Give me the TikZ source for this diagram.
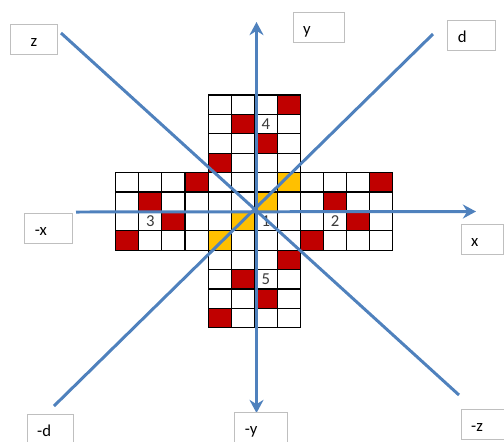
\documentclass[tikz,border=0pt]{standalone}
\usepackage{fontspec}
\setmainfont{Carlito}
\usepackage{tikz}
\usetikzlibrary{arrows.meta}
\definecolor{ax}{HTML}{4F81BD}
\definecolor{hit}{HTML}{C00000}
\definecolor{trail}{HTML}{FFC000}
\definecolor{boxline}{HTML}{BFBFBF}
\definecolor{num}{HTML}{3A3A3A}
\tikzset{
  sq/.style={draw=black, line width=0.6pt, fill=white},
  redsq/.style={sq, fill=hit},
  yelsq/.style={sq, fill=trail},
  digit/.style={font=\fontsize{9.5}{11}\selectfont, text=num, inner sep=0pt},
  axline/.style={draw=ax, line width=1.7pt},
  onearrow/.style={axline, -{Stealth[length=7.5pt, width=8pt, inset=2.5pt]}},
  twoarrow/.style={axline, {Stealth[length=7.5pt, width=8pt, inset=2.5pt]}-{Stealth[length=7.5pt, width=8pt, inset=2.5pt]}},
  tagbox/.style={draw=boxline, line width=0.6pt, fill=white, anchor=north west,
    font=\fontsize{9.5}{11}\selectfont, inner xsep=0.2cm, inner ysep=0.06cm,
    text height=0.38cm, text depth=0.1cm},
}
\newcommand{\cellat}[3]{\draw[#3] (#1,#2) rectangle ++(1,1);}
\newcommand{\axtag}[6]{\node[tagbox, text width=#4, align=#5] (#1) at (#2,#3) {#6};}

\begin{document}
\begin{tikzpicture}[x=0.02cm, y=-0.02cm]
  \path[use as bounding box, clip] (0,0) rectangle (504,441);
  % board
  \begin{scope}[shift={(115.7,95)}, x=0.462cm, y=-0.388cm]
    \foreach \row in {0,...,11} {\foreach \col in {4,...,7} {\cellat{\col}{\row}{sq}}}
    \foreach \row in {4,...,7} {\foreach \col in {0,1,2,3,8,9,10,11} {\cellat{\col}{\row}{sq}}}
    \foreach \col/\row in {7/0, 5/1, 6/2, 4/3, 3/4, 11/4, 1/5, 9/5, 2/6, 10/6, 0/7, 8/7, 7/8, 5/9, 6/10, 4/11}
      {\cellat{\col}{\row}{redsq}}
    \foreach \col/\row in {7/4, 6/5, 5/6, 4/7} {\cellat{\col}{\row}{yelsq}}
    \foreach \col/\row/\lab in {6/1/4, 1/6/3, 6/6/1, 9/6/2, 6/9/5}
      \node[digit] (n\lab) at (\col+0.5,\row+0.5) {\lab};
  \end{scope}
  % axes
  \coordinate (xw) at (76,212);    \coordinate (xe) at (476,211.5);
  \coordinate (yn) at (256.5,22);  \coordinate (ys) at (256.5,413);
  \coordinate (zn) at (61,33);     \coordinate (zs) at (459,395);
  \coordinate (dn) at (433,34);    \coordinate (ds) at (54,406);
  \draw[axline] (zn) -- (zs);
  \draw[axline] (dn) -- (ds);
  \draw[onearrow] (xw) -- (xe);
  \draw[twoarrow] (ys) -- (yn);
  % labels
  \axtag{tz}{10}{24.3}{0.54cm}{center}{z}
  \axtag{ty}{292.7}{11.7}{0.63cm}{left}{y}
  \axtag{td}{447.3}{20}{0.55cm}{left}{d}
  \axtag{tmx}{24.3}{212.7}{0.55cm}{left}{-x}
  \axtag{tx}{460.7}{224}{0.44cm}{left}{x}
  \axtag{tmd}{26.7}{414.3}{0.53cm}{left}{-d}
  \axtag{tmy}{234.3}{412.3}{0.65cm}{left}{-y}
  \axtag{tmz}{460.7}{409.3}{0.5cm}{left}{-z}
\end{tikzpicture}
\end{document}
